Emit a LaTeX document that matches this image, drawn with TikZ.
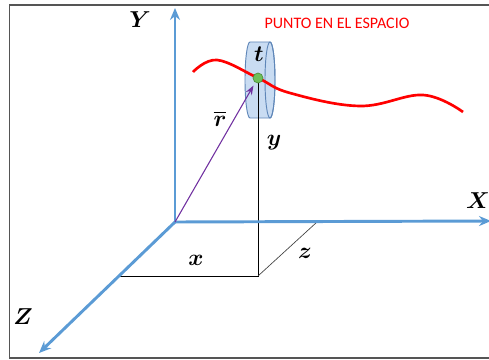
\documentclass[tikz,border=0pt]{standalone}
\usepackage{fontspec}
\usepackage{amsmath,bm}
\newfontfamily\calfont{Carlito}
\usetikzlibrary{arrows.meta}
\definecolor{axisblue}{HTML}{5B9BD5}
\definecolor{cylfill}{HTML}{C9DCF2}
\definecolor{cylline}{HTML}{5E86B8}
\definecolor{vecpurple}{HTML}{7030A0}
\definecolor{dotgreen}{HTML}{70BF5A}
\definecolor{dotline}{HTML}{4C8C3C}
\definecolor{framegray}{HTML}{555555}
\tikzset{
  axis/.style={draw=axisblue, line width=2.2pt, -{Stealth[length=9pt,width=7.5pt]}},
  lbl/.style={inner sep=0pt, font=\fontsize{18}{20}\selectfont},
  thinline/.style={draw=black, line width=0.6pt},
}
\begin{document}
\begin{tikzpicture}[x=0.75pt,y=-0.75pt]
\useasboundingbox (0,0) rectangle (489,360);
% frame
\draw[framegray, line width=1.1pt] (495,5) -- (9.5,5) -- (9.5,358) -- (495,358);
% coordinates
\coordinate (O) at (175,222);
\coordinate (P) at (258,78);
\coordinate (Yend) at (175,8);
\coordinate (Xend) at (491,221);
\coordinate (Zend) at (39,353);
\coordinate (Foot) at (258,276);
\coordinate (Zfoot) at (118,276);
\coordinate (Xz) at (317,222);
% cylinder
\path[fill=cylfill, draw=cylline, line width=0.7pt]
  (250,42) arc[start angle=90,end angle=270,x radius=3.75pt,y radius=28.5pt]
  -- (270,118) arc[start angle=-90,end angle=90,x radius=3.75pt,y radius=28.5pt] -- cycle;
\draw[cylline, line width=0.7pt] (270,80) ellipse[x radius=3.75pt,y radius=28.5pt];
% projection lines
\draw[thinline] (P) -- (Foot) -- (Zfoot);
\draw[draw=black!75, line width=0.5pt] (Foot) -- (Xz);
% axes
\draw[axis] (O) -- (Yend);
\draw[axis] (O) -- (Xend);
\draw[axis] (O) -- (Zend);
% position vector
\draw[vecpurple, line width=0.8pt, -{Stealth[length=7pt,width=5pt]}] (O) -- (253.5,85.5);
% curve
\draw[red, line width=2pt] plot[smooth, tension=0.65] coordinates
  {(193,72) (217,60) (258,78) (290,93) (360,106) (423,95) (463,112)};
% point
\node[circle, fill=dotgreen, draw=dotline, line width=0.5pt, minimum size=7.5pt, inner sep=0pt] (dot) at (P) {};
% labels
\node[lbl] (lY) at (140,20) {$\bm{Y}$};
\node[lbl] (lX) at (478,201) {$\bm{X}$};
\node[lbl] (lZ) at (23,317) {$\bm{Z}$};
\node[lbl] (lx) at (196,260) {$\bm{x}$};
\node[lbl] (lz) at (305,253) {$\bm{z}$};
\node[lbl] (ly) at (274,143) {$\bm{y}$};
\node[lbl] (lt) at (259,54) {$\bm{t}$};
\node[lbl] (lr) at (220,119) {$\overline{\bm{r}}$};
\node[inner sep=0pt, text=red, font=\calfont\fontsize{12}{14}\selectfont] (title) at (337,23) {PUNTO EN EL ESPACIO};
\end{tikzpicture}
\end{document}
